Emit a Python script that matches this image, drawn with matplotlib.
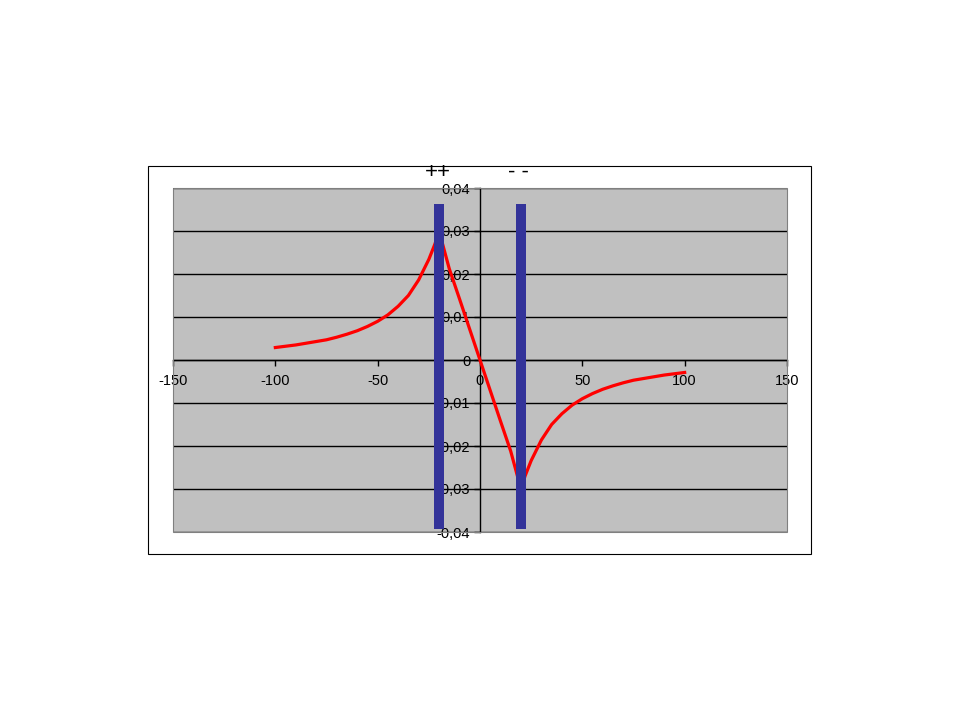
import matplotlib.pyplot as plt
from matplotlib.patches import Rectangle
from matplotlib.transforms import blended_transform_factory

plt.rcParams['font.family'] = ['Liberation Sans', 'DejaVu Sans']

# red curve
x_vals = [-100, -95, -90, -85, -80, -75, -70, -65, -60, -55, -50, -45, -40, -35, -30, -25, -22, -20,
          -15, -10, -5, 0, 5, 10, 15,
          20, 22, 25, 30, 35, 40, 45, 50, 55, 60, 65, 70, 75, 80, 85, 90, 95, 100]
y_vals = [0.0029, 0.0032, 0.0035, 0.0039, 0.0043, 0.0047, 0.0053, 0.0060, 0.0068, 0.0078, 0.0090, 0.0105, 0.0125, 0.0150, 0.0186, 0.0234, 0.0270, 0.0300,
          0.0212, 0.0142, 0.0071, 0.0, -0.0071, -0.0142, -0.0212,
          -0.0300, -0.0270, -0.0234, -0.0186, -0.0150, -0.0125, -0.0105, -0.0090, -0.0078, -0.0068, -0.0060, -0.0053, -0.0047, -0.0043, -0.0039, -0.0035, -0.0032, -0.0029]

# charge plates (blue bars)
plate_x = [-20, 20]
plate_bottom = -0.0393
plate_top = 0.0363
plate_labels = ['++', '- -']
plate_label_x = [-20.5, 19]

x_ticks = [-150, -100, -50, 0, 50, 100, 150]
y_ticks = [-0.04, -0.03, -0.02, -0.01, 0, 0.01, 0.02, 0.03, 0.04]
y_tick_labels = ['-0,04', '-0,03', '-0,02', '-0,01', '0', '0,01', '0,02', '0,03', '0,04']

fig = plt.figure(figsize=(9.6, 7.2), dpi=100)
fig.patches.append(Rectangle((148 / 960, 1 - 554 / 720), 663 / 960, 388 / 720,
                             transform=fig.transFigure, fill=False, edgecolor='black', lw=0.8))

ax = fig.add_axes([173 / 960, 1 - 532 / 720, 614 / 960, 344 / 720])
ax.set_facecolor('#C0C0C0')
ax.set_xlim(-150, 150)
ax.set_ylim(-0.04, 0.04)

ax.plot(x_vals, y_vals, color='red', lw=2.3, zorder=2.8)
ax.vlines(plate_x, plate_bottom, plate_top, color='#333399', lw=7.2, zorder=3)

# axes crossing at zero, Excel style
ax.spines['left'].set_position(('data', 0))
ax.spines['bottom'].set_position(('data', 0))
for s in ['left', 'bottom']:
    ax.spines[s].set_color('black')
    ax.spines[s].set_linewidth(1)
for s in ['top', 'right']:
    ax.spines[s].set_visible(False)
ax.add_patch(Rectangle((0, 0), 1, 1, transform=ax.transAxes, fill=False,
                       edgecolor='#808080', lw=0.8, zorder=2.6, clip_on=False))

ax.set_xticks(x_ticks)
ax.set_xticklabels([str(t) for t in x_ticks])
ax.set_yticks(y_ticks)
ax.set_yticklabels(y_tick_labels)
ax.tick_params(axis='both', direction='out', length=4, width=1, labelsize=10.5, color='black')
ax.tick_params(axis='x', pad=6)
ax.tick_params(axis='y', pad=3)
ax.yaxis.grid(True, color='black', lw=1)
ax.xaxis.grid(False)

trans = blended_transform_factory(ax.transData, ax.transAxes)
for lx, lab in zip(plate_label_x, plate_labels):
    ax.text(lx, 1.044, lab, transform=trans, ha='center', va='center', fontsize=16)

fig.savefig('out.png', dpi=100)
